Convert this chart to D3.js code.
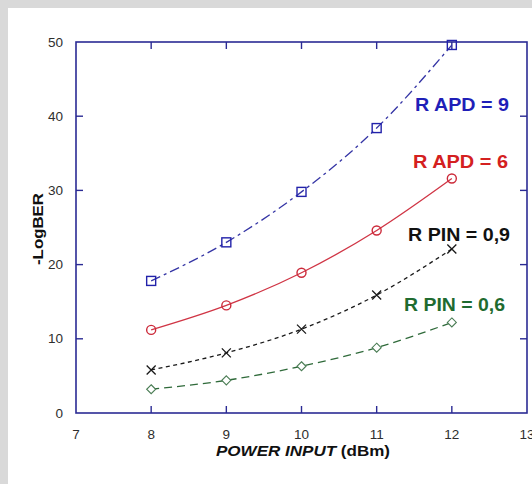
<!DOCTYPE html>
<html>
<head>
<meta charset="utf-8">
<script src="https://cdn.jsdelivr.net/npm/d3@7"></script>
<style>
  html, body { margin: 0; padding: 0; background: #d9d9d9; }
  svg { display: block; }
</style>
</head>
<body>
<svg id="chart" width="532" height="484"></svg>
<script>
const xValues = [8, 9, 10, 11, 12];
const apd9 = [17.8, 23.0, 29.8, 38.4, 49.6];
const apd6 = [11.2, 14.5, 18.9, 24.6, 31.6];
const pin09 = [5.8, 8.1, 11.3, 15.9, 22.1];
const pin06 = [3.2, 4.4, 6.3, 8.8, 12.2];
const xTicks = [7, 8, 9, 10, 11, 12, 13];
const yTicks = [0, 10, 20, 30, 40, 50];
const seriesNames = ["R APD = 9", "R APD = 6", "R PIN = 0,9", "R PIN = 0,6"];

const svg = d3.select("#chart");
svg.append("rect").attr("x", 8).attr("y", 8).attr("width", 524).attr("height", 476).attr("fill", "#ffffff");

const L = 76, R = 527, T = 42, B = 413;
const x = d3.scaleLinear().domain([7, 13]).range([L, R]);
const y = d3.scaleLinear().domain([0, 50]).range([B, T]);
const axisColor = "#2b2b94";

// frame
svg.append("rect").attr("x", L).attr("y", T).attr("width", R - L).attr("height", B - T)
  .attr("fill", "none").attr("stroke", axisColor).attr("stroke-width", 1.6);

// ticks: left & right inward
const tk = 7;
yTicks.filter(v => v > 0 && v < 50).forEach(v => {
  svg.append("line").attr("x1", L).attr("x2", L + tk).attr("y1", y(v)).attr("y2", y(v))
    .attr("stroke", axisColor).attr("stroke-width", 1.4);
  svg.append("line").attr("x1", R).attr("x2", R - tk).attr("y1", y(v)).attr("y2", y(v))
    .attr("stroke", axisColor).attr("stroke-width", 1.4);
});
xTicks.filter(v => v > 7 && v < 13).forEach(v => {
  svg.append("line").attr("x1", x(v)).attr("x2", x(v)).attr("y1", T).attr("y2", T + tk)
    .attr("stroke", axisColor).attr("stroke-width", 1.4);
  svg.append("line").attr("x1", x(v)).attr("x2", x(v)).attr("y1", B).attr("y2", B - tk)
    .attr("stroke", axisColor).attr("stroke-width", 1.4);
});

// tick labels
const tickFont = "Liberation Sans, Arial, sans-serif";
svg.append("g").selectAll("text").data(yTicks).join("text")
  .attr("x", 63).attr("y", d => y(d) + 4.5)
  .attr("text-anchor", "end").attr("font-family", tickFont).attr("font-size", 13.5)
  .attr("fill", "#2e2e2e").text(d => d);
svg.append("g").selectAll("text").data(xTicks).join("text")
  .attr("x", d => x(d)).attr("y", 439)
  .attr("text-anchor", "middle").attr("font-family", tickFont).attr("font-size", 13.5)
  .attr("fill", "#2e2e2e").text(d => d);

// axis titles
const xt = svg.append("text").attr("x", 303).attr("y", 456).attr("text-anchor", "middle")
  .attr("font-family", tickFont).attr("font-size", 15).attr("font-weight", "bold").attr("fill", "#111")
  .attr("textLength", 174).attr("lengthAdjust", "spacingAndGlyphs");
xt.append("tspan").attr("font-style", "italic").text("POWER INPUT");
xt.append("tspan").text(" (dBm)");

svg.append("text").attr("transform", "translate(43,229) rotate(-90)").attr("text-anchor", "middle")
  .attr("font-family", tickFont).attr("font-size", 15).attr("font-weight", "bold").attr("fill", "#111")
  .attr("textLength", 72).attr("lengthAdjust", "spacingAndGlyphs").text("-LogBER");

// series
const series = [
  { vals: apd9, line: "#3535a5", mark: "#2222aa", dash: "10,4,3,4", shape: "square", label: seriesNames[0], lc: "#1f1fb8", lx: 415, ly: 111, lw: 94 },
  { vals: apd6, line: "#d03545", mark: "#cc2a3a", dash: null, shape: "circle", label: seriesNames[1], lc: "#d42020", lx: 413, ly: 168, lw: 95 },
  { vals: pin09, line: "#1a1a1a", mark: "#1a1a1a", dash: "4,3.5", shape: "cross", label: seriesNames[2], lc: "#111111", lx: 408, ly: 241, lw: 102 },
  { vals: pin06, line: "#2f6a3a", mark: "#4b7d55", dash: "8,5", shape: "diamond", label: seriesNames[3], lc: "#1f6b30", lx: 404, ly: 311, lw: 101 }
];

const lineGen = d3.line().x((d, i) => x(xValues[i])).y(d => y(d)).curve(d3.curveMonotoneX);

series.forEach(s => {
  const p = svg.append("path").attr("d", lineGen(s.vals)).attr("fill", "none")
    .attr("stroke", s.line).attr("stroke-width", 1.3);
  if (s.dash) p.attr("stroke-dasharray", s.dash);
  const g = svg.append("g");
  s.vals.forEach((v, i) => {
    const cx = x(xValues[i]), cy = y(v);
    if (s.shape === "square") {
      g.append("rect").attr("x", cx - 4.5).attr("y", cy - 4.5).attr("width", 9).attr("height", 9)
        .attr("fill", "none").attr("stroke", s.mark).attr("stroke-width", 1.4);
    } else if (s.shape === "circle") {
      g.append("circle").attr("cx", cx).attr("cy", cy).attr("r", 4.5)
        .attr("fill", "none").attr("stroke", s.mark).attr("stroke-width", 1.4);
    } else if (s.shape === "cross") {
      g.append("path").attr("d", `M${cx-4.5},${cy-4.5}L${cx+4.5},${cy+4.5}M${cx-4.5},${cy+4.5}L${cx+4.5},${cy-4.5}`)
        .attr("stroke", s.mark).attr("stroke-width", 1.3);
    } else {
      g.append("path").attr("d", `M${cx},${cy-4.5}L${cx+4.5},${cy}L${cx},${cy+4.5}L${cx-4.5},${cy}Z`)
        .attr("fill", "#fff").attr("stroke", s.mark).attr("stroke-width", 1.1);
    }
  });
  svg.append("text").attr("x", s.lx).attr("y", s.ly).attr("font-family", tickFont)
    .attr("font-size", 18.5).attr("font-weight", "bold").attr("fill", s.lc)
    .attr("textLength", s.lw).attr("lengthAdjust", "spacingAndGlyphs").text(s.label);
});
</script>
</body>
</html>
